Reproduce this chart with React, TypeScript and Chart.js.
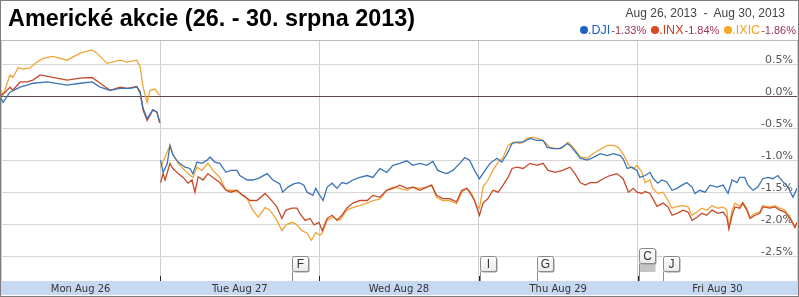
import React, { useEffect, useRef } from 'react';
import { Chart, registerables } from 'chart.js';

Chart.register(...registerables);

// ---- data (time = trading minutes since Mon 9:30, 390 per day; value = % change) ----
const DAY_LABELS = ['Mon Aug 26', 'Tue Aug 27', 'Wed Aug 28', 'Thu Aug 29', 'Fri Aug 30'];
const DAY_STARTS = [0, 390, 780, 1170, 1560, 1950];
const Y_TICKS = [-2.5, -2, -1.5, -1, -0.5, 0, 0.5];
const DATE_RANGE = 'Aug 26, 2013  -  Aug 30, 2013';
const TITLE = 'Americké akcie (26. - 30. srpna 2013)';
const SERIES_NAMES = ['.DJI', '.INX', '.IXIC'];
const SERIES_CHANGES = ['-1.33%', '-1.84%', '-1.86%'];

const DJI: [number, number | null][] = [
  [0, -0.02], [5, -0.09], [22, 0.07], [47, 0.15], [64, 0.18], [78, 0.21], [113, 0.23], [162, 0.18], [194, 0.21], [223, 0.23],
  [243, 0.15], [267, 0.1], [292, 0.13], [316, 0.13], [333, 0.15], [341, 0.08], [348, -0.18], [358, -0.34], [372, -0.2], [382, -0.24], [389, -0.4],
  [390, null],
  [391, -0.99], [397, -1.18], [407, -1.05], [414, -0.76], [421, -0.91], [434, -1.02], [451, -1.1], [463, -1.12], [470, -1.2], [480, -1.02],
  [492, -1.04], [505, -0.99], [512, -0.94], [524, -1.02], [536, -1.04], [551, -1.18], [563, -1.15], [578, -1.15], [585, -1.23], [603, -1.3],
  [617, -1.3], [632, -1.27], [652, -1.2], [666, -1.3], [683, -1.36], [690, -1.49], [703, -1.41], [717, -1.36], [730, -1.34], [742, -1.38],
  [750, -1.49], [764, -1.54], [771, -1.43], [781, -1.54],
  [789, -1.62], [799, -1.41], [811, -1.35], [823, -1.43], [835, -1.34], [847, -1.36], [862, -1.3], [879, -1.26], [897, -1.23], [911, -1.26],
  [928, -1.12], [945, -1.18], [960, -1.07], [977, -1.04], [994, -1.0], [1009, -1.07], [1026, -1.04], [1043, -1.07], [1058, -1.01], [1070, -1.15],
  [1082, -1.18], [1092, -1.2], [1107, -1.15], [1124, -1.04], [1136, -0.95], [1148, -0.99], [1160, -1.15], [1172, -1.28],
  [1186, -1.15], [1198, -1.04], [1215, -0.96], [1227, -1.02], [1240, -0.89], [1252, -0.73], [1264, -0.71], [1279, -0.71], [1296, -0.65], [1313, -0.68],
  [1328, -0.68], [1338, -0.79], [1353, -0.81], [1370, -0.81], [1387, -0.73], [1394, -0.76], [1411, -0.89], [1419, -0.96], [1436, -0.99], [1450, -0.95],
  [1468, -0.89], [1485, -0.92], [1500, -0.89], [1517, -0.92], [1524, -0.97], [1534, -1.12], [1546, -1.1], [1558, -1.15],
  [1565, -1.26], [1578, -1.23], [1590, -1.18], [1597, -1.27], [1609, -1.35], [1619, -1.3], [1631, -1.33], [1644, -1.46], [1656, -1.43], [1668, -1.38],
  [1680, -1.34], [1693, -1.41], [1700, -1.51], [1712, -1.46], [1725, -1.49], [1737, -1.38], [1754, -1.41], [1769, -1.38], [1781, -1.51], [1791, -1.3],
  [1803, -1.34], [1810, -1.26], [1822, -1.26], [1830, -1.38], [1842, -1.46], [1854, -1.41], [1866, -1.28], [1879, -1.26], [1891, -1.28], [1903, -1.23],
  [1916, -1.33], [1928, -1.41], [1940, -1.57], [1950, -1.43],
];

const INX: [number, number | null][] = [
  [0, 0.02], [10, 0.07], [22, 0.15], [29, 0.1], [47, 0.23], [64, 0.23], [78, 0.26], [96, 0.34], [127, 0.3], [162, 0.26],
  [194, 0.29], [223, 0.3], [243, 0.21], [267, 0.1], [292, 0.15], [309, 0.13], [333, 0.16], [341, 0.05], [348, -0.21], [358, -0.37],
  [372, -0.21], [382, -0.24], [389, -0.41],
  [390, null],
  [391, -1.34], [397, -1.2], [402, -1.3], [414, -1.04], [421, -1.12], [434, -1.2], [446, -1.26], [458, -1.35], [468, -1.3], [475, -1.49],
  [483, -1.25], [495, -1.3], [507, -1.2], [519, -1.26], [536, -1.34], [551, -1.46], [563, -1.49], [578, -1.46], [593, -1.54], [610, -1.62],
  [627, -1.62], [647, -1.51], [659, -1.59], [676, -1.72], [688, -1.9], [698, -1.77], [713, -1.74], [725, -1.74], [732, -1.82], [745, -1.93],
  [757, -1.9], [767, -2.0], [779, -1.96],
  [787, -2.09], [799, -1.9], [811, -1.85], [823, -1.93], [835, -1.85], [847, -1.74], [862, -1.66], [879, -1.62], [897, -1.62], [911, -1.54],
  [928, -1.57], [945, -1.46], [960, -1.43], [977, -1.38], [994, -1.43], [1009, -1.41], [1026, -1.46], [1043, -1.41], [1055, -1.38], [1067, -1.54],
  [1082, -1.59], [1099, -1.59], [1116, -1.64], [1129, -1.46], [1141, -1.43], [1148, -1.49], [1160, -1.62], [1172, -1.85],
  [1181, -1.66], [1193, -1.59], [1205, -1.46], [1218, -1.49], [1230, -1.38], [1242, -1.26], [1252, -1.12], [1264, -1.1], [1279, -1.12], [1296, -1.04],
  [1313, -1.07], [1328, -1.04], [1340, -1.15], [1358, -1.18], [1375, -1.15], [1394, -1.1], [1406, -1.2], [1419, -1.34], [1431, -1.38], [1443, -1.34],
  [1460, -1.34], [1475, -1.28], [1492, -1.23], [1509, -1.2], [1524, -1.28], [1537, -1.49], [1549, -1.43], [1558, -1.49],
  [1570, -1.51], [1578, -1.48], [1590, -1.51], [1607, -1.71], [1622, -1.66], [1634, -1.72], [1644, -1.85], [1656, -1.82], [1671, -1.77], [1683, -1.8],
  [1693, -1.93], [1705, -1.88], [1717, -1.82], [1729, -1.85], [1742, -1.77], [1756, -1.82], [1769, -1.8], [1778, -1.88], [1783, -2.06], [1791, -1.85],
  [1798, -1.72], [1810, -1.74], [1817, -1.66], [1827, -1.77], [1835, -1.9], [1847, -1.85], [1859, -1.82], [1866, -1.72], [1884, -1.74], [1896, -1.72],
  [1908, -1.77], [1920, -1.8], [1933, -1.9], [1945, -2.04], [1950, -1.96],
];

const IXIC: [number, number | null][] = [
  [0, 0.1], [5, 0.02], [22, 0.34], [29, 0.3], [42, 0.45], [54, 0.43], [71, 0.45], [88, 0.54], [103, 0.6], [127, 0.63],
  [162, 0.57], [194, 0.68], [223, 0.73], [235, 0.68], [260, 0.52], [292, 0.57], [309, 0.54], [333, 0.57], [341, 0.46], [348, 0.15],
  [358, -0.09], [365, 0.1], [377, 0.12], [389, 0.02],
  [390, null],
  [391, -1.1], [402, -0.94], [414, -0.76], [421, -0.89], [434, -1.04], [446, -1.12], [458, -1.2], [470, -1.26], [480, -1.1], [492, -1.15],
  [507, -1.04], [519, -1.15], [536, -1.26], [551, -1.46], [563, -1.46], [575, -1.46], [585, -1.51], [603, -1.59], [617, -1.77], [630, -1.88],
  [647, -1.73], [659, -1.77], [676, -1.93], [688, -2.09], [698, -2.0], [713, -1.96], [725, -2.0], [737, -2.09], [750, -2.13], [760, -2.24],
  [771, -2.12], [781, -2.16],
  [787, -2.13], [799, -1.93], [814, -1.88], [830, -1.93], [847, -1.77], [862, -1.73], [879, -1.7], [897, -1.66], [911, -1.62], [928, -1.6],
  [945, -1.46], [960, -1.41], [977, -1.43], [994, -1.46], [1009, -1.41], [1026, -1.43], [1043, -1.41], [1055, -1.38], [1067, -1.57], [1082, -1.62],
  [1099, -1.62], [1116, -1.67], [1129, -1.49], [1141, -1.43], [1153, -1.51], [1165, -1.7], [1172, -1.74],
  [1181, -1.41], [1193, -1.3], [1205, -1.15], [1218, -1.02], [1230, -0.95], [1242, -0.76], [1255, -0.71], [1272, -0.73], [1289, -0.65], [1301, -0.63],
  [1316, -0.65], [1333, -0.71], [1345, -0.79], [1362, -0.81], [1377, -0.79], [1389, -0.71], [1402, -0.79], [1419, -0.94], [1436, -0.96], [1450, -0.89],
  [1468, -0.82], [1485, -0.76], [1500, -0.76], [1512, -0.79], [1524, -0.89], [1537, -1.06], [1549, -1.13], [1558, -1.07],
  [1570, -1.18], [1578, -1.34], [1590, -1.3], [1597, -1.43], [1609, -1.51], [1622, -1.49], [1634, -1.62], [1644, -1.74], [1656, -1.71], [1671, -1.7],
  [1683, -1.72], [1693, -1.85], [1705, -1.8], [1717, -1.74], [1729, -1.77], [1742, -1.7], [1756, -1.74], [1769, -1.72], [1778, -1.77], [1783, -2.04],
  [1791, -1.77], [1798, -1.66], [1810, -1.71], [1817, -1.65], [1827, -1.74], [1835, -1.88], [1847, -1.82], [1859, -1.8], [1866, -1.7], [1884, -1.72],
  [1896, -1.7], [1908, -1.74], [1920, -1.77], [1933, -1.88], [1945, -2.04], [1950, -1.96],
];

const FLAG_LABELS = ['F', 'I', 'G', 'C', 'J'];
const FLAG_TIMES = [713, 1173, 1314, 1563, 1622];
const FLAG_STACK = [1, 1, 1, 3, 1];

// ---- styles ----
const LINE_COLORS = ['#3a74b6', '#c64a2c', '#f0a53a'];
const DOT_COLORS = ['#1c62c4', '#d8491f', '#f5a623'];
const NAME_COLORS = ['#1d5fbf', '#cc3f18', '#f2a124'];

const decorPlugin = {
  id: 'decor',
  beforeDraw(chart: any) {
    const { ctx, chartArea } = chart;
    ctx.save();
    ctx.fillStyle = '#c6d9f1';
    ctx.fillRect(0, chartArea.bottom, chart.width, 14);
    ctx.restore();
  },
  afterDatasetsDraw(chart: any) {
    const { ctx, chartArea, scales } = chart;
    const { top, bottom } = chartArea;
    const x = scales.x;
    ctx.save();
    ctx.lineWidth = 1;
    ctx.strokeStyle = '#bcbcbc';
    ctx.beginPath();
    ctx.moveTo(0, top + 0.5);
    ctx.lineTo(chart.width, top + 0.5);
    ctx.stroke();

    ctx.strokeStyle = '#222';
    DAY_STARTS.slice(1, -1).forEach((v) => {
      const px = Math.round(x.getPixelForValue(v)) + 0.5;
      ctx.beginPath();
      ctx.moveTo(px, bottom - 5);
      ctx.lineTo(px, bottom);
      ctx.stroke();
    });

    FLAG_LABELS.forEach((lab, i) => {
      const px = Math.round(x.getPixelForValue(FLAG_TIMES[i])) + 0.5;
      const n = FLAG_STACK[i];
      const w = 16;
      const h = 15;
      const boxTop = Math.round(bottom - 25 - (n - 1) * 4) + 0.5;
      const boxBottom = boxTop + h;
      ctx.strokeStyle = '#8a8a8a';
      ctx.beginPath();
      ctx.moveTo(px, boxBottom);
      ctx.lineTo(px, bottom);
      ctx.stroke();
      for (let k = 1; k < n; k++) {
        for (let j = 0; j < 2; j++) {
          const yy = boxBottom + (k - 1) * 4 + j * 2 + 1.5;
          ctx.beginPath();
          ctx.moveTo(px, yy);
          ctx.lineTo(px + w, yy);
          ctx.stroke();
        }
      }
      ctx.fillStyle = '#9a9a9a';
      ctx.beginPath();
      ctx.roundRect(px + 1, boxTop + 1, w, h, 2);
      ctx.fill();
      const g = ctx.createLinearGradient(0, boxTop, 0, boxBottom);
      g.addColorStop(0, '#ffffff');
      g.addColorStop(1, '#e9e9e9');
      ctx.fillStyle = g;
      ctx.beginPath();
      ctx.roundRect(px, boxTop, w, h, 2);
      ctx.fill();
      ctx.strokeStyle = '#8a8a8a';
      ctx.stroke();
      ctx.fillStyle = '#333';
      ctx.font = '12px "Liberation Sans", Arial, sans-serif';
      ctx.textAlign = 'center';
      ctx.textBaseline = 'middle';
      ctx.fillText(lab, px + w / 2, boxTop + h / 2 + 0.5);
    });
    ctx.restore();
  },
};

export default function App() {
  const ref = useRef<HTMLCanvasElement>(null);

  useEffect(() => {
    document.body.style.margin = '0';
    const series = [DJI, INX, IXIC];
    const chart = new Chart(ref.current as HTMLCanvasElement, {
      type: 'line',
      data: {
        datasets: series.map((s, i) => ({
          label: SERIES_NAMES[i],
          data: s.map(([t, v]) => ({ x: t, y: v })),
          borderColor: LINE_COLORS[i],
          backgroundColor: LINE_COLORS[i],
          borderWidth: 1.3,
          pointRadius: 0,
          tension: 0,
          spanGaps: false,
          fill: false,
        })),
      },
      options: {
        animation: false,
        responsive: false,
        maintainAspectRatio: false,
        layout: { padding: { left: 1, right: 2, top: 40, bottom: 2 } },
        plugins: { legend: { display: false }, tooltip: { enabled: false } },
        scales: {
          x: {
            type: 'linear',
            min: DAY_STARTS[0],
            max: DAY_STARTS[DAY_STARTS.length - 1],
            afterBuildTicks: (s: any) => {
              s.ticks = DAY_STARTS.map((v) => ({ value: v }));
            },
            afterFit: (s: any) => {
              s.height = 14;
              s.paddingLeft = 0;
              s.paddingRight = 0;
            },
            grid: { color: '#cfcfcf', drawTicks: false },
            border: { display: false },
            ticks: {
              autoSkip: false,
              maxRotation: 0,
              minRotation: 0,
              padding: 2,
              labelOffset: 79.6,
              color: '#333',
              font: { family: '"DejaVu Sans", Verdana, sans-serif', size: 10 },
              callback: (_v: any, i: number) => DAY_LABELS[i] ?? '',
            },
          },
          y: {
            type: 'linear',
            position: 'right',
            min: -2.876,
            max: 0.885,
            afterBuildTicks: (s: any) => {
              s.ticks = Y_TICKS.map((v) => ({ value: v }));
            },
            afterFit: (s: any) => {
              s.width = 0;
              s.paddingTop = 0;
              s.paddingBottom = 0;
            },
            grid: {
              drawTicks: false,
              color: (c: any) => (c.tick && c.tick.value === 0 ? '#5b4848' : '#d6d6d6'),
            },
            border: { display: false },
            ticks: {
              mirror: true,
              padding: -4,
              labelOffset: -5,
              color: '#555',
              font: { family: '"DejaVu Sans", Verdana, sans-serif', size: 11 },
              callback: (v: any) => Number(v).toFixed(1) + '%',
            },
          },
        },
      },
      plugins: [decorPlugin],
    } as any);
    return () => chart.destroy();
  }, []);

  return (
    <div style={{ position: 'relative', width: 799, height: 297, overflow: 'hidden', background: '#fff' }}>
      <canvas
        ref={ref}
        width={799}
        height={297}
        style={{ position: 'absolute', left: 0, top: 0, width: 799, height: 297 }}
      />
      <div
        style={{
          position: 'absolute', left: 0, top: 0, width: 799, height: 297, boxSizing: 'border-box',
          border: '1px solid #7d7d7d', pointerEvents: 'none',
        }}
      />
      <div
        style={{
          position: 'absolute', left: 8, top: 7, font: 'bold 23.4px "Liberation Sans", Arial, sans-serif',
          lineHeight: '23px', color: '#000', whiteSpace: 'nowrap',
        }}
      >
        {TITLE}
      </div>
      <div
        style={{
          position: 'absolute', right: 14, top: 7, font: '12px "Liberation Sans", Arial, sans-serif',
          lineHeight: '12px', color: '#444', whiteSpace: 'pre',
        }}
      >
        {DATE_RANGE}
      </div>
      <div
        style={{
          position: 'absolute', right: 3, top: 24, display: 'flex', alignItems: 'center',
          fontFamily: '"Liberation Sans", Arial, sans-serif', whiteSpace: 'nowrap', lineHeight: '12px',
        }}
      >
        {SERIES_NAMES.map((name, i) => (
          <React.Fragment key={name}>
            <span
              style={{
                display: 'inline-block', width: 8, height: 8, borderRadius: '50%', background: DOT_COLORS[i],
                marginLeft: i === 0 ? 0 : 5,
              }}
            />
            <span style={{ fontSize: 12.5, color: NAME_COLORS[i] }}>{name}</span>
            <span style={{ fontSize: 11, color: '#a0305c', marginLeft: 1 }}>{SERIES_CHANGES[i]}</span>
          </React.Fragment>
        ))}
      </div>
    </div>
  );
}
